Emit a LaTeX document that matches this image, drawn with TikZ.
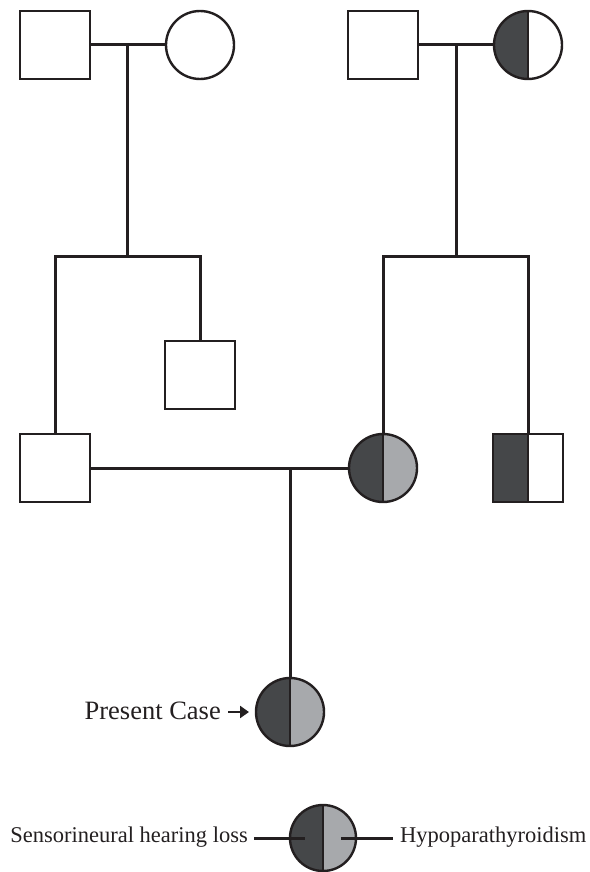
\documentclass[tikz,border=0pt]{standalone}
\usepackage{fontspec}
\setmainfont{Liberation Serif}
\usetikzlibrary{arrows.meta}
\definecolor{ink}{HTML}{231F20}
\definecolor{affdark}{HTML}{454749}
\definecolor{afflight}{HTML}{A7A9AC}
\tikzset{
  person/.style={draw=ink, line width=2.4pt, inner sep=0pt, fill=white},
  male/.style={person, rectangle, minimum width=70, minimum height=68},
  female/.style={person, circle, minimum size=68},
  lefthalf/.style={path picture={
      \fill[affdark] (path picture bounding box.south west) rectangle (path picture bounding box.north);
      \draw[ink, line width=2.8pt] (path picture bounding box.north) -- (path picture bounding box.south);}},
  bothhalves/.style={path picture={
      \fill[affdark] (path picture bounding box.south west) rectangle (path picture bounding box.north);
      \fill[afflight] (path picture bounding box.south) rectangle (path picture bounding box.north east);
      \draw[ink, line width=2.8pt] (path picture bounding box.north) -- (path picture bounding box.south);}},
  link/.style={draw=ink, line width=3pt},
  caption/.style={font=\fontsize{26.5}{30}\selectfont, text=ink, inner sep=0pt},
  legendtext/.style={font=\fontsize{22.5}{26}\selectfont, text=ink, inner sep=0pt},
}
\begin{document}
\begin{tikzpicture}[x=1pt, y=-1pt]
\useasboundingbox (0,0) rectangle (589,872);

% first generation
\node[male]   (gm1) at (55,45)  {};
\node[female] (gf1) at (200,45) {};
\node[male]   (gm2) at (383,45) {};
\node[female, lefthalf] (gf2) at (528,45) {};

% second generation
\node[male] (p1) at (55,468) {};
\node[male] (u1) at (200,375) {};
\node[female, bothhalves] (m1) at (383,468) {};
\node[male, lefthalf] (u2) at (528,468) {};

% proband
\node[female, bothhalves] (pc) at (290,712) {};

% marriage and sibship lines
\coordinate (mA) at (127,45);
\coordinate (sA) at (127,256);
\coordinate (mB) at (456,45);
\coordinate (sB) at (456,256);
\coordinate (mC) at (290,468);

\draw[link] (gm1) -- (gf1);
\draw[link] (mA) -- (sA);
\draw[link] (p1.north) -- (p1.north |- sA) -- (u1.north |- sA) -- (u1.north);

\draw[link] (gm2) -- (gf2);
\draw[link] (mB) -- (sB);
\draw[link] (m1.north) -- (m1.north |- sB) -- (u2.north |- sB) -- (u2.north);

\draw[link] (p1) -- (m1);
\draw[link] (mC) -- (pc.north);

% proband label
\coordinate (arA) at (228,712);
\coordinate (arB) at (249,712);
\node[caption, anchor=east] (pclabel) at (221,711) {Present Case};
\draw[link, line width=2.8pt, -{Triangle[length=9pt, width=12pt]}] (arA) -- (arB);

% legend
\node[female, bothhalves, minimum size=66] (key) at (323,838) {};
\coordinate (kL1) at (254,838);
\coordinate (kL2) at (305,838);
\coordinate (kR1) at (341,838);
\coordinate (kR2) at (393,838);
\draw[link] (kL1) -- (kL2);
\draw[link] (kR1) -- (kR2);
\node[legendtext, anchor=east] (klab1) at (248,837) {Sensorineural hearing loss};
\node[legendtext, anchor=west] (klab2) at (400,837) {Hypoparathyroidism};
\end{tikzpicture}
\end{document}
